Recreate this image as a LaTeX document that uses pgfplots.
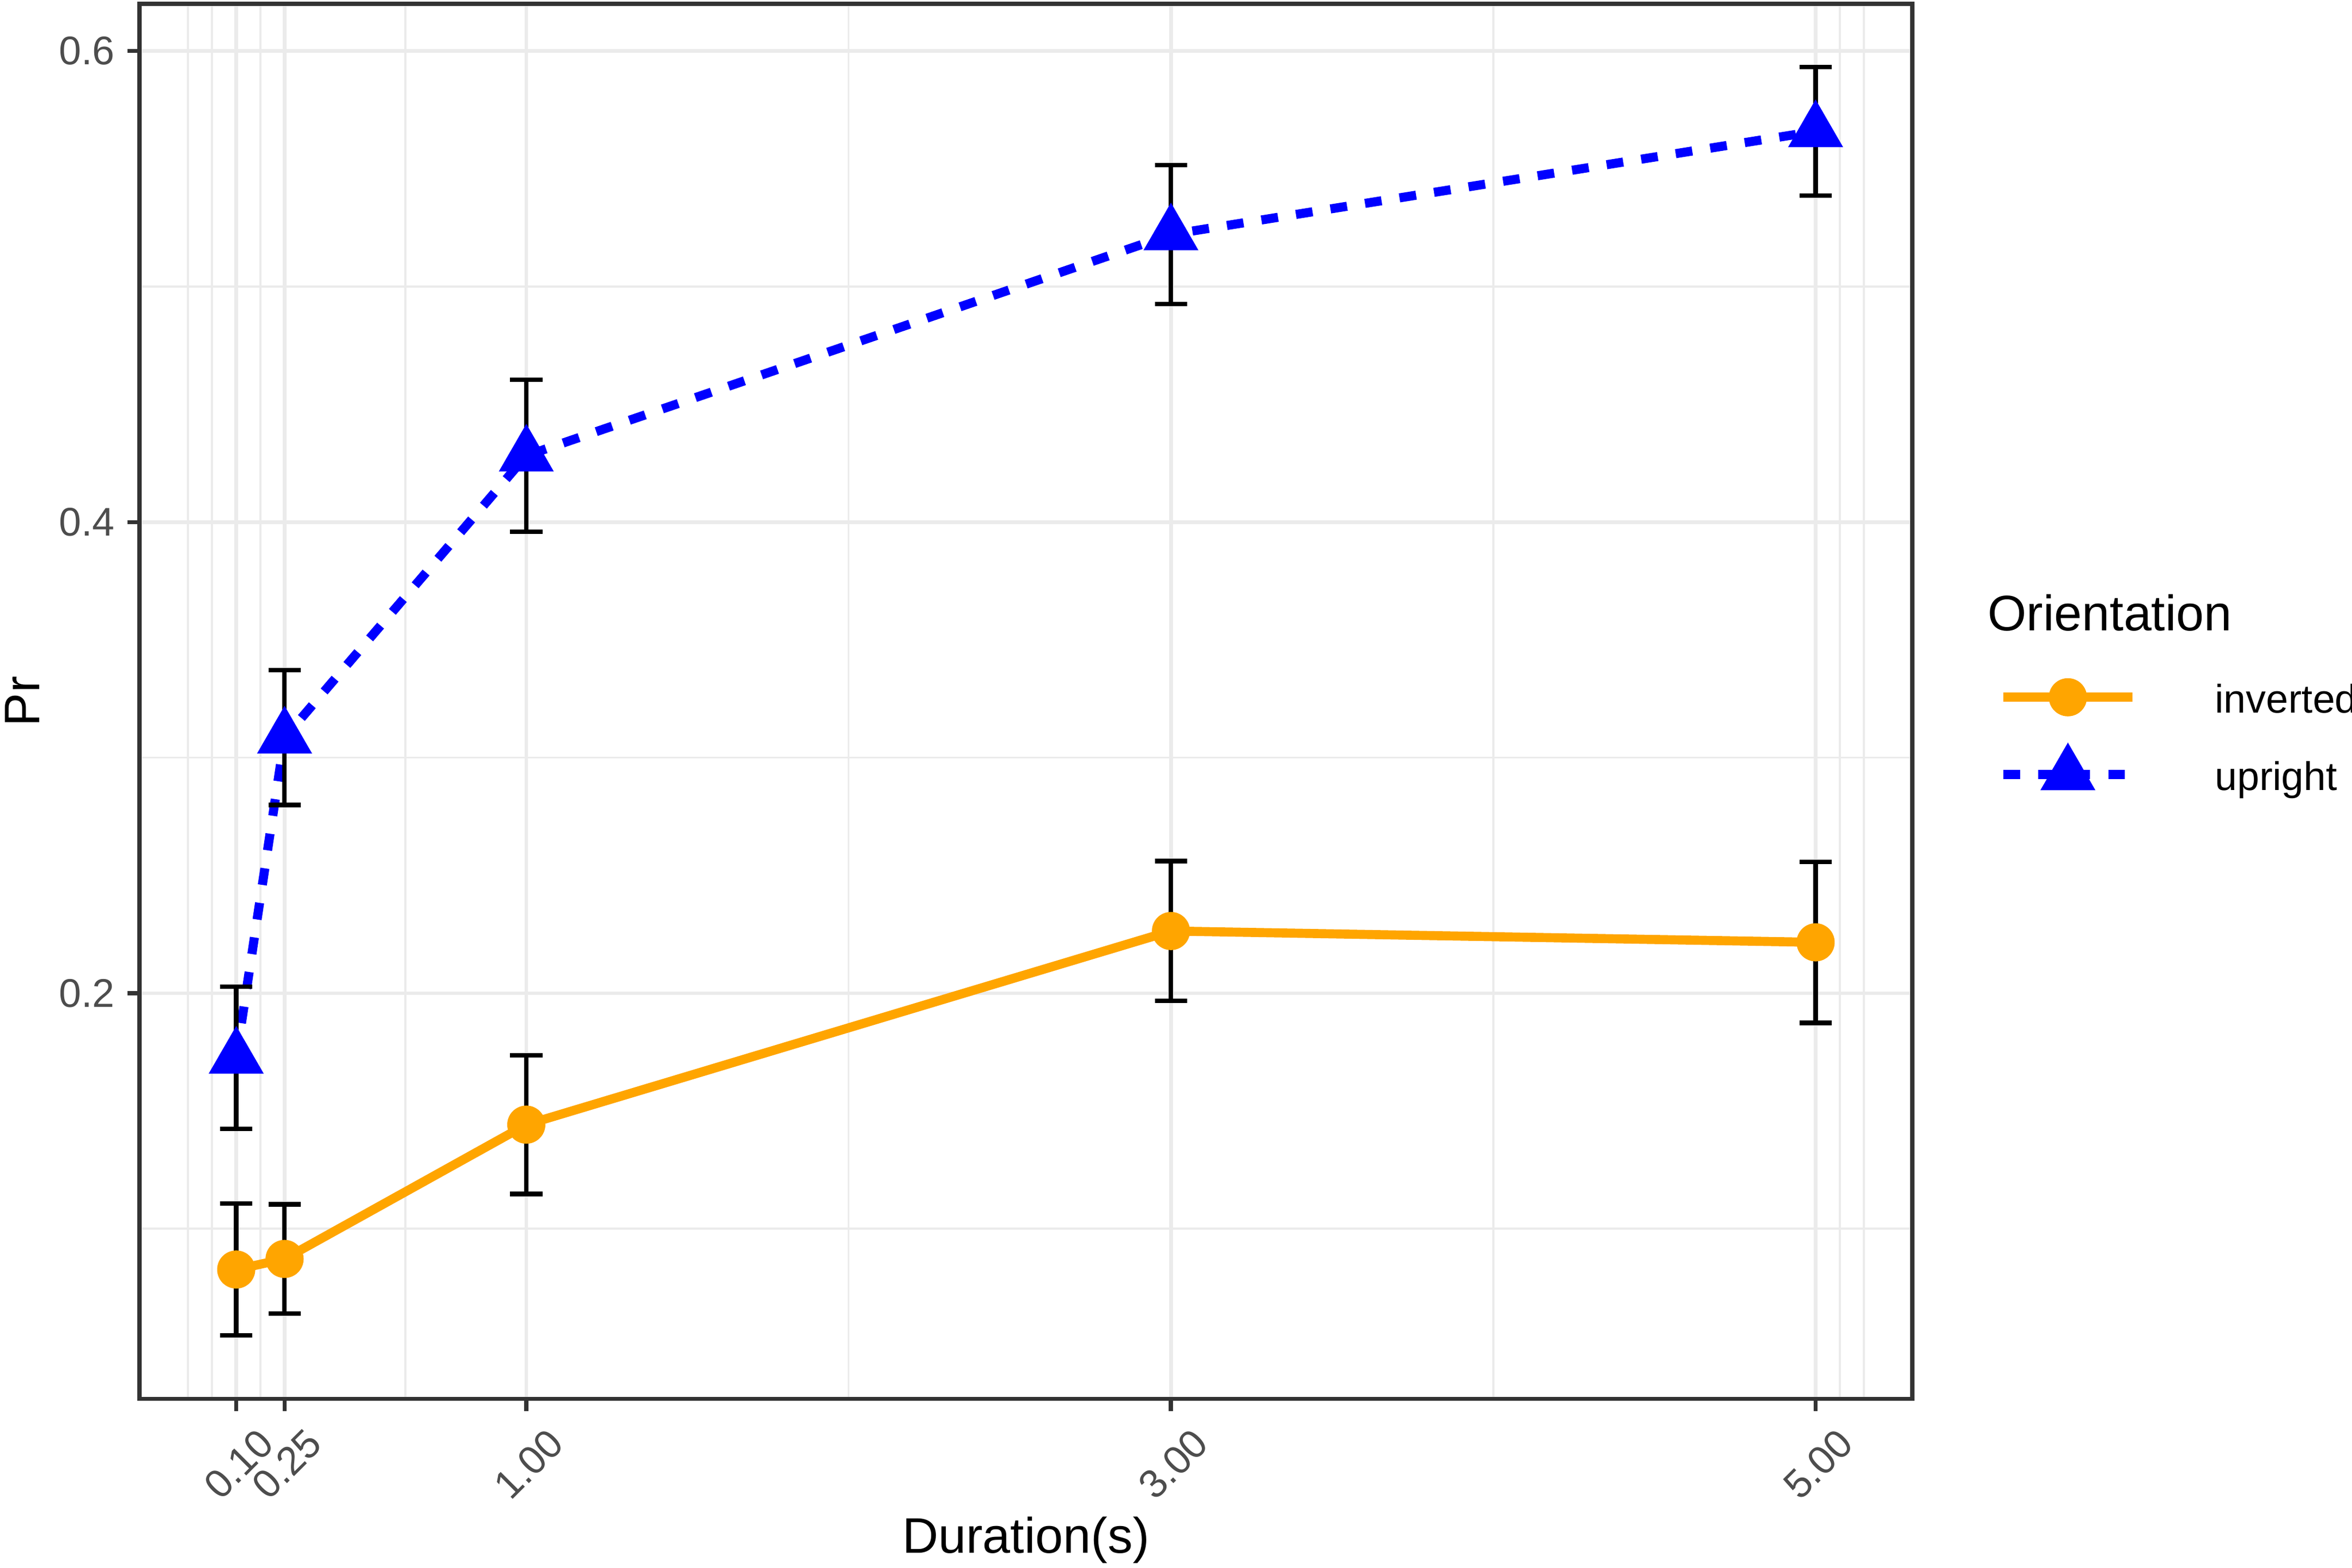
\documentclass[border=0pt]{standalone}
\usepackage{fontspec}
\setmainfont{Liberation Sans}
\usepackage{pgfplots}
\usepackage{pgfplotstable}
\pgfplotsset{compat=1.18}
\definecolor{inv}{HTML}{FFA500}
\definecolor{upr}{HTML}{0000FF}
\definecolor{gridc}{HTML}{EBEBEB}
\definecolor{axc}{HTML}{333333}
\definecolor{tickc}{HTML}{4D4D4D}

\pgfplotstableread{
x     y       err
0.10  0.0827  0.0280
0.25  0.0872  0.0232
1.00  0.1442  0.0294
3.00  0.2264  0.0297
5.00  0.2216  0.0342
}\inverted
\pgfplotstableread{
x     y       err
0.10  0.1726  0.0302
0.25  0.3085  0.0286
1.00  0.4282  0.0323
3.00  0.5221  0.0295
5.00  0.5659  0.0273
}\upright

\begin{document}
\begin{tikzpicture}
\path[use as bounding box] (0,0) rectangle (518.04pt,345.24pt);
\begin{axis}[
  at={(30.73pt,37.14pt)}, anchor=south west,
  scale only axis, width=390.46pt, height=307.25pt,
  xmin=-0.2, xmax=5.3, ymin=0.0278, ymax=0.62,
  xtick={0.1,0.25,1,3,5}, xticklabels={0.10,0.25,1.00,3.00,5.00},
  minor xtick={-0.05,0.025,0.175,0.625,2,4,5.075,5.15},
  ytick={0.2,0.4,0.6}, yticklabels={0.2,0.4,0.6},
  minor ytick={0.1,0.3,0.5},
  grid=both,
  major grid style={gridc, line width=0.8pt},
  minor grid style={gridc, line width=0.45pt},
  axis line style={axc, line width=0.9pt},
  tick style={axc, line width=0.9pt},
  tick align=outside,
  xtick pos=bottom, ytick pos=left,
  major tick length=2.7pt,
  minor tick length=0pt,
  /pgf/number format/assume math mode=true,
  yticklabel style={font=\fontsize{8.8}{10}\selectfont, text=tickc, anchor=east, inner sep=0pt, xshift=-2.6pt},
  xticklabel style={font=\fontsize{8.8}{10}\selectfont, text=tickc, anchor=center, inner sep=0pt, xshift=0.5pt, yshift=-11.7pt, rotate=45},
  xlabel={Duration(s)},
  ylabel={Pr},
  xlabel style={at={(axis description cs:0.5,-0.1107)}, anchor=base, inner sep=0pt, font=\fontsize{11}{13}\selectfont},
  ylabel style={at={(axis description cs:-0.05627,0.5)}, anchor=base, inner sep=0pt, font=\fontsize{11}{13}\selectfont},
  legend cell align=left,
  legend style={at={(axis description cs:1.04879,0.51594)}, anchor=north west,
    draw=none, fill=none, inner sep=0pt, outer sep=0pt,
    font=\fontsize{8.8}{10}\selectfont,
    nodes={inner sep=0pt, outer sep=0pt, text height=6.4pt, text depth=1.85pt},
    row sep=5.03pt, column sep=17.2pt},
  legend image code/.code={
    \draw[mark repeat=2, mark phase=2, #1] plot coordinates {(0pt,1.225pt) (14.22pt,1.225pt) (28.44pt,1.225pt)};
  },
]
\addplot[inv, line width=2pt, mark=*, mark size=4.0pt,
  mark options={solid, fill=inv, draw=inv, line width=0.4pt}]
  table[x=x, y=y] {\inverted};
\addlegendentry{inverted}
\addplot[upr, line width=2pt, dash pattern=on 3.7pt off 4pt, mark=triangle*, mark size=6.6pt,
  mark options={solid, fill=upr, draw=upr, line width=0.4pt}]
  table[x=x, y=y] {\upright};
\addlegendentry{upright}

\addplot[draw=none, mark=none, forget plot,
  error bars/.cd, y dir=both, y explicit,
  error bar style={draw=black, line width=1pt, solid},
  error mark options={rotate=90, draw=black, line width=1pt, mark size=3.55pt}]
  table[x=x, y=y, y error=err] {\inverted};
\addplot[draw=none, mark=none, forget plot,
  error bars/.cd, y dir=both, y explicit,
  error bar style={draw=black, line width=1pt, solid},
  error mark options={rotate=90, draw=black, line width=1pt, mark size=3.55pt}]
  table[x=x, y=y, y error=err] {\upright};
\end{axis}
\node[anchor=base west, inner sep=0pt, font=\fontsize{11}{13}\selectfont] at (437.6pt,206.28pt) {Orientation};
\end{tikzpicture}
\end{document}
